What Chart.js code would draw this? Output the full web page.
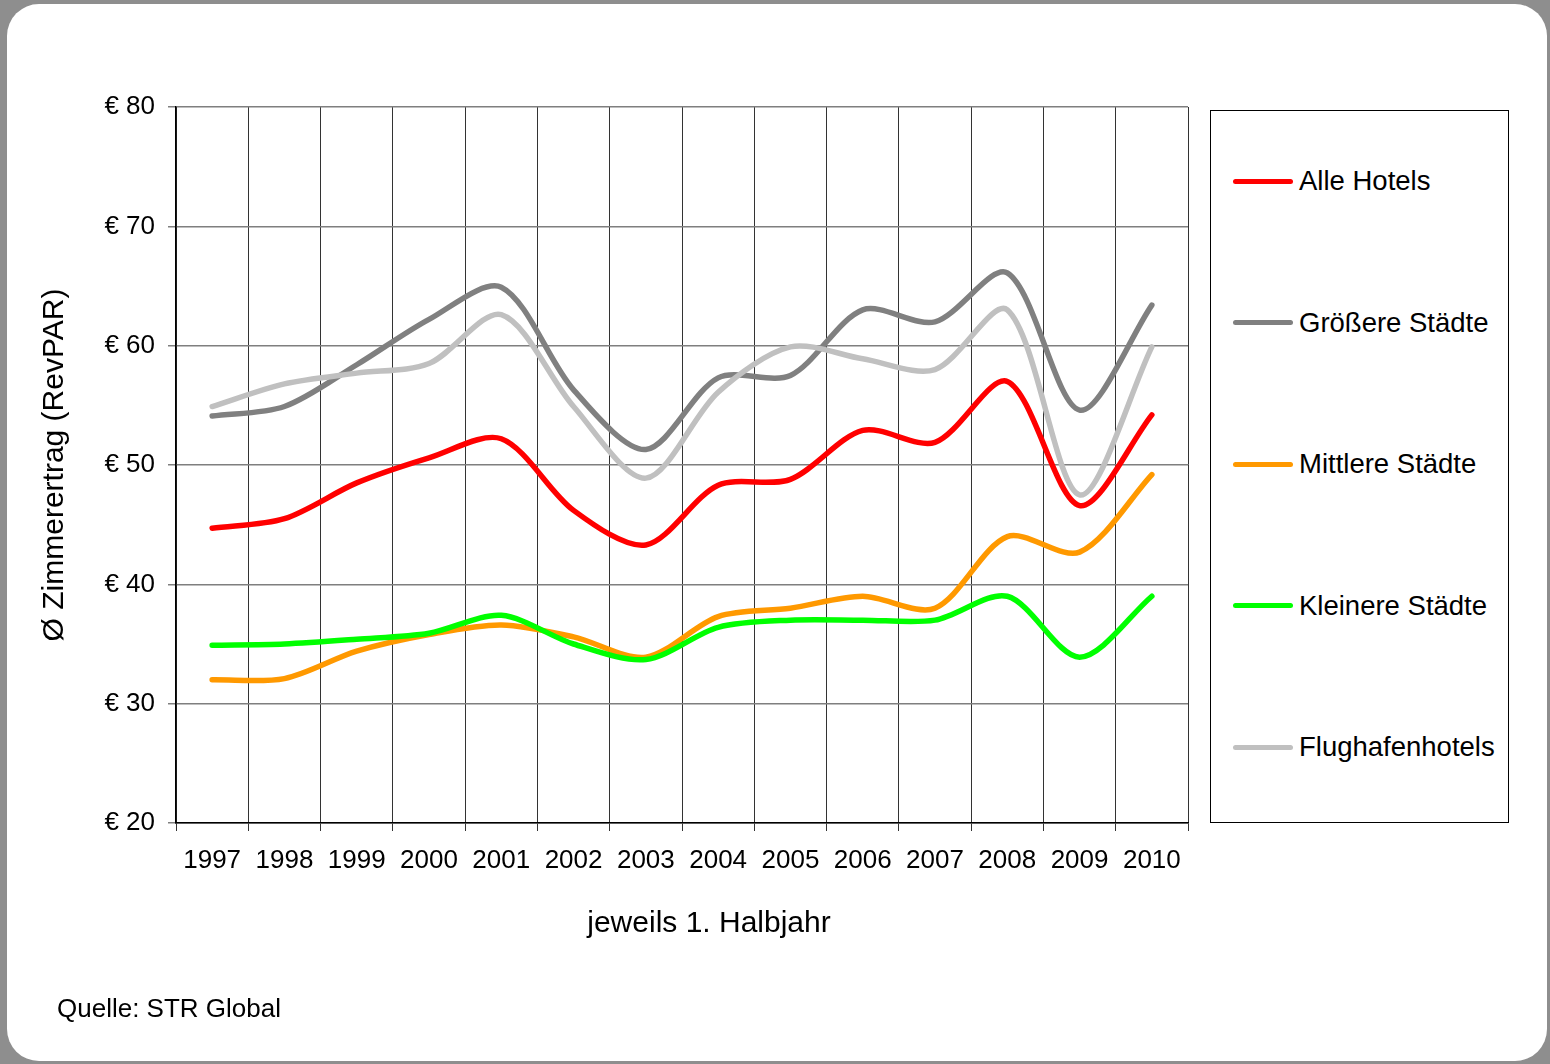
<!DOCTYPE html>
<html lang="de">
<head>
<meta charset="utf-8">
<title>Zimmerertrag (RevPAR)</title>
<script src="https://cdn.jsdelivr.net/npm/chart.js@4.4.1/dist/chart.umd.min.js"></script>
<style>
  body { margin: 0; background: #8e8e8e; font-family: "Liberation Sans", Arial, sans-serif; }
  #frame { position: absolute; left: 7px; top: 4px; width: 1540px; height: 1057px; background: #fff; border-radius: 32px; }
  #wrap { position: absolute; left: 0; top: 0; width: 1550px; height: 1064px; }
  #legend { position: absolute; left: 1210px; top: 110px; width: 297px; height: 711px; border: 1px solid #000; background: #fff; }
  .legend-item { position: absolute; left: 22px; display: flex; align-items: center; transform: translateY(-50%); font-size: 27.5px; color: #000; white-space: nowrap; }
  .swatch { display: inline-block; width: 60px; height: 5px; border-radius: 3px; margin-right: 6px; }
  #xtitle { position: absolute; left: 709px; top: 904px; transform: translateX(-50%); font-size: 30px; line-height: 36px; color: #000; white-space: nowrap; }
  #source { position: absolute; left: 57px; top: 993px; font-size: 26px; line-height: 30px; color: #000; }
</style>
</head>
<body>
<div id="frame"></div>
<div id="wrap">
  <canvas id="myChart" width="1550" height="1064"></canvas>
</div>
<div id="legend"></div>
<div id="xtitle">jeweils 1. Halbjahr</div>
<div id="source">Quelle: STR Global</div>
<script>
const years = ["1997", "1998", "1999", "2000", "2001", "2002", "2003", "2004", "2005", "2006", "2007", "2008", "2009", "2010"];

const alleHotels = [44.7, 45.5, 48.5, 50.6, 52.2, 46.2, 43.3, 48.3, 48.8, 52.9, 51.9, 57.0, 46.6, 54.2];
const groessereStaedte = [54.1, 54.9, 58.4, 62.2, 64.9, 56.3, 51.3, 57.3, 57.5, 63.0, 62.0, 66.1, 54.6, 63.4];
const mittlereStaedte = [32.0, 32.1, 34.4, 35.8, 36.6, 35.6, 33.9, 37.3, 38.0, 39.0, 38.0, 44.0, 42.7, 49.2];
const kleinereStaedte = [34.9, 35.0, 35.4, 35.9, 37.4, 35.0, 33.7, 36.4, 37.0, 37.0, 37.0, 39.0, 33.9, 39.0];
const flughafenhotels = [54.9, 56.8, 57.7, 58.5, 62.6, 54.9, 48.9, 56.1, 59.9, 58.9, 58.0, 63.0, 47.5, 59.9];

const seriesNames = ["Alle Hotels", "Größere Städte", "Mittlere Städte", "Kleinere Städte", "Flughafenhotels"];
const seriesValues = [alleHotels, groessereStaedte, mittlereStaedte, kleinereStaedte, flughafenhotels];
const seriesColors = ["#ff0000", "#808080", "#ff9900", "#00ff00", "#c0c0c0"];

const yTicks = [20, 30, 40, 50, 60, 70, 80];

Chart.defaults.font.family = "'Liberation Sans', Arial, sans-serif";
Chart.defaults.color = "#000";

// draw order: light lines first so the red one stays on top
const drawOrder = [4, 3, 2, 1, 0];

const ctx = document.getElementById("myChart");

new Chart(ctx, {
	type: "line",
	data: {
		labels: years,
		datasets: seriesNames.map((name, i) => ({
			label: name,
			data: seriesValues[i],
			borderColor: seriesColors[i],
			backgroundColor: seriesColors[i],
			borderWidth: 5.5,
			borderCapStyle: "round",
			borderJoinStyle: "round",
			pointRadius: 0,
			tension: 0.3,
			order: drawOrder[i],
		})),
	},
	options: {
		responsive: false,
		animation: false,
		layout: {
			padding: { left: 0, top: 107, right: 362, bottom: 141 },
		},
		plugins: {
			legend: { display: false },
			tooltip: { enabled: false },
		},
		scales: {
			x: {
				offset: true,
				grid: {
					offset: true,
					color: "#333",
					lineWidth: 1,
					tickLength: 8,
				},
				border: { color: "#000", width: 1.5 },
				ticks: {
					font: { size: 26 },
					padding: 14,
					maxRotation: 0,
					autoSkip: false,
				},
				afterFit: (scale) => {
					scale.height = 100;
				},
			},
			y: {
				min: yTicks[0],
				max: yTicks[yTicks.length - 1],
				grid: {
					color: "#7f7f7f",
					lineWidth: 1.5,
					tickLength: 8,
				},
				border: { color: "#000", width: 1.5 },
				ticks: {
					stepSize: 10,
					font: { size: 26 },
					padding: 13,
					callback: (v) => "€ " + v,
				},
				title: {
					display: true,
					text: "Ø Zimmerertrag (RevPAR)",
					font: { size: 30 },
					padding: { top: 37, bottom: 0 },
				},
				afterFit: (scale) => {
					scale.width = 176;
				},
			},
		},
	},
});

// LEGEND
const legendBox = document.getElementById("legend");
seriesNames.forEach((name, i) => {
	const item = document.createElement("div");
	item.className = "legend-item";
	item.style.top = (70 + i * 141.5) + "px";
	const swatch = document.createElement("span");
	swatch.className = "swatch";
	swatch.style.background = seriesColors[i];
	const text = document.createElement("span");
	text.textContent = name;
	item.appendChild(swatch);
	item.appendChild(text);
	legendBox.appendChild(item);
});
</script>
</body>
</html>
